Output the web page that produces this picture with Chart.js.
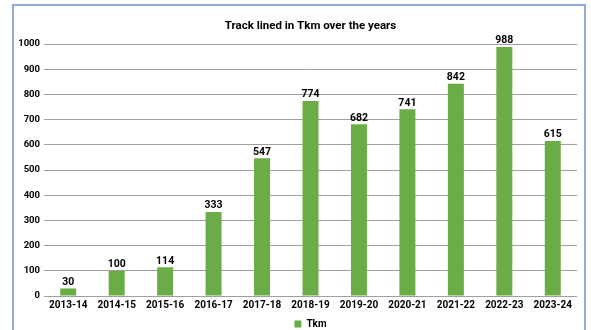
<!DOCTYPE html>
<html><head><meta charset="utf-8">
<script src="https://cdn.jsdelivr.net/npm/chart.js@4/dist/chart.umd.min.js"></script>
<style>
html,body{margin:0;padding:0;background:#fff;width:591px;height:330px;overflow:hidden;}
#frame{position:absolute;left:12px;top:4px;width:570px;height:340px;border:2px solid #8eaadb;}
#wrap{position:absolute;left:0;top:0;width:591px;height:330px;}
</style></head>
<body>
<div id="frame"></div>
<div id="wrap"><canvas id="c" width="591" height="330"></canvas></div>
<script>
const categories = ["2013-14","2014-15","2015-16","2016-17","2017-18","2018-19","2019-20","2020-21","2021-22","2022-23","2023-24"];
const tkmValues = [30,100,114,333,547,774,682,741,842,988,615];
const seriesName = "Tkm";
const chartTitle = "Track lined in Tkm over the years";
const yMin = 0, yMax = 1000, yStep = 100;

const FONT = "Roboto, 'Liberation Sans', sans-serif";
const GREEN = "#6aad47";

const valueLabels = {
  id: 'valueLabels',
  afterDatasetsDraw(chart) {
    const ctx = chart.ctx;
    ctx.save();
    ctx.font = "bold 10.5px " + FONT;
    ctx.fillStyle = "#000";
    ctx.textAlign = "center";
    ctx.textBaseline = "bottom";
    chart.getDatasetMeta(0).data.forEach((bar, i) => {
      ctx.fillText(String(chart.data.datasets[0].data[i]), bar.x, bar.y - 1);
    });
    ctx.restore();
  }
};

new Chart(document.getElementById('c'), {
  type: 'bar',
  data: {
    labels: categories,
    datasets: [{
      label: seriesName,
      data: tkmValues,
      backgroundColor: GREEN,
      borderWidth: 0,
      barPercentage: 0.66,
      categoryPercentage: 0.5
    }]
  },
  options: {
    responsive: false,
    animation: false,
    devicePixelRatio: 1,
    layout: { padding: { left: 0, right: 14, top: 19, bottom: -9 } },
    plugins: {
      title: {
        display: true, text: chartTitle, color: "#000", fullSize: false,
        font: { family: FONT, size: 11.5, weight: 'bold' },
        padding: { top: 0, bottom: 11.2 }
      },
      legend: {
        display: true, position: 'bottom', fullSize: false,
        labels: {
          color: "#000", boxWidth: 7, boxHeight: 7, padding: 2,
          font: { family: FONT, size: 10, weight: 'bold' }
        }
      },
      tooltip: { enabled: false }
    },
    scales: {
      x: {
        afterFit(scale) { scale.height = 21; },
        grid: { display: false, drawTicks: false },
        border: { display: false },
        ticks: { color: "#000", font: { family: FONT, size: 10, weight: 'bold' }, padding: 3, maxRotation: 0, autoSkip: false }
      },
      y: {
        min: yMin, max: yMax,
        afterFit(scale) { scale.width = 44; },
        grid: { color: "#a0a0a0", lineWidth: 1, drawTicks: false },
        border: { display: false },
        ticks: { stepSize: yStep, color: "#000", font: { family: FONT, size: 9.5, weight: 'bold' }, padding: 4,
                 callback: (v) => String(v) }
      }
    }
  },
  plugins: [valueLabels]
});
</script>
</body></html>
